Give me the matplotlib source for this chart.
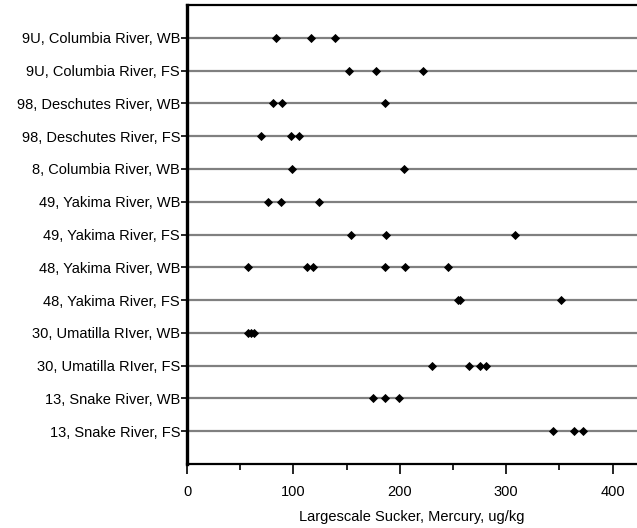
import matplotlib
matplotlib.use("Agg")
import matplotlib.pyplot as plt
from matplotlib.ticker import MultipleLocator

plt.rcParams['font.family'] = ['Liberation Sans', 'DejaVu Sans']

sites = [
    "9U, Columbia River, WB",
    "9U, Columbia River, FS",
    "98, Deschutes River, WB",
    "98, Deschutes River, FS",
    "8, Columbia River, WB",
    "49, Yakima River, WB",
    "49, Yakima River, FS",
    "48, Yakima River, WB",
    "48, Yakima River, FS",
    "30, Umatilla RIver, WB",
    "30, Umatilla RIver, FS",
    "13, Snake River, WB",
    "13, Snake River, FS",
]

mercury = [
    [84, 117, 139],
    [152, 178, 222],
    [81, 89, 186],
    [70, 98, 105],
    [99, 204],
    [76, 88, 124],
    [154, 187, 308],
    [57, 113, 118, 186, 205, 245],
    [255, 257, 352],
    [57, 60, 63],
    [230, 265, 275, 281],
    [175, 186, 199],
    [344, 364, 372],
]

x_ticks = [0, 100, 200, 300, 400]
x_label = "Largescale Sucker, Mercury, ug/kg"

W, H = 637, 528
fig = plt.figure(figsize=(W / 100, H / 100), dpi=100)
ax = fig.add_axes([187 / W, 1 - 464 / H, 1 - 187 / W, (464 - 5) / H])

ypos = list(range(1, len(sites) + 1))
for y in ypos:
    ax.axhline(y, color="#808080", lw=1.6, zorder=1)

for y, vals in zip(ypos, mercury):
    ax.plot(vals, [y] * len(vals), linestyle="none", marker="D",
            ms=4.0, mew=0.6, color="black", zorder=3)

ax.set_ylim(len(sites) + 1, 0)
ax.set_xlim(0, 423)
ax.set_yticks(ypos)
ax.set_yticklabels(sites, fontsize=10.5)
ax.set_xticks(x_ticks)
ax.set_xticklabels([str(t) for t in x_ticks], fontsize=10.5)
ax.xaxis.set_minor_locator(MultipleLocator(50))
ax.tick_params(axis="y", length=4, width=1.2, pad=1, direction="out")
ax.tick_params(axis="x", which="major", length=7, width=1.2, pad=8, direction="out")
ax.tick_params(axis="x", which="minor", length=4, width=1.2, direction="out")
ax.set_xlabel(x_label, fontsize=10.5, labelpad=8)

ax.spines["left"].set_linewidth(2.4)
ax.spines["bottom"].set_linewidth(1.6)
ax.spines["top"].set_linewidth(1.6)
ax.spines["right"].set_visible(False)

fig.savefig("out.png", dpi=100)
